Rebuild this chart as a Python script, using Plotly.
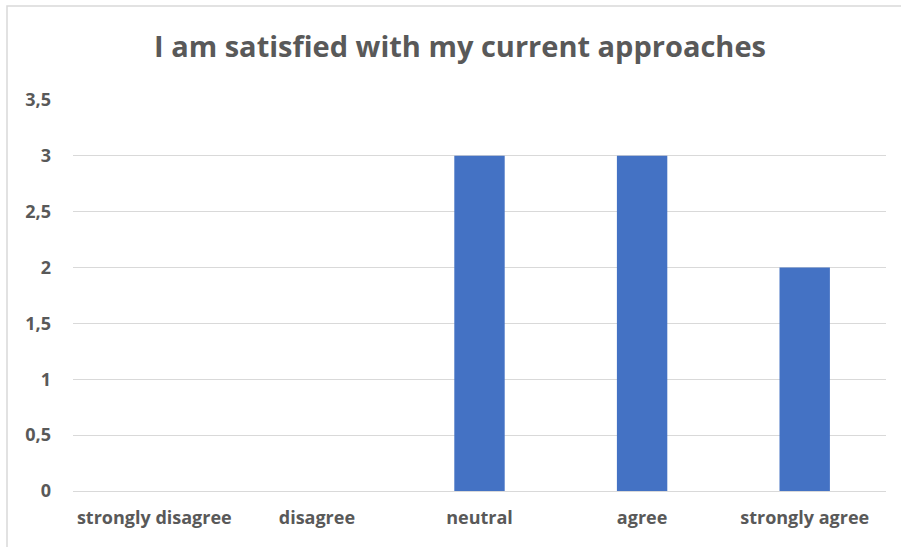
import plotly.graph_objects as go

categories = ["strongly disagree", "disagree", "neutral", "agree", "strongly agree"]
counts = [0, 0, 3, 3, 2]
y_ticks = [0, 0.5, 1, 1.5, 2, 2.5, 3, 3.5]

W, H = 901, 547
L, R, T, B = 73, 15, 100, 56
pw = W - L - R
ph = H - T - B

TEXT = "#595959"
GRID = "#D9D9D9"

fig = go.Figure(
    go.Bar(
        x=categories,
        y=counts,
        marker=dict(color="#4472C4", line=dict(width=0)),
        hoverinfo="x+y",
    )
)

fig.update_layout(
    width=W,
    height=H,
    margin=dict(l=L, r=R, t=T, b=B),
    paper_bgcolor="white",
    plot_bgcolor="white",
    separators=", ",
    bargap=0.69,
    showlegend=False,
    title=dict(
        text="<b>I am satisfied with my current approaches</b>",
        x=460 / W,
        xanchor="center",
        y=1 - 47 / H,
        yanchor="middle",
        font=dict(family="Open Sans", size=29, color=TEXT),
    ),
    font=dict(family="Open Sans", color=TEXT),
)

fig.update_xaxes(
    showgrid=False,
    showline=False,
    ticks="",
    tickfont=dict(family="Open Sans", size=18, color=TEXT, weight="bold"),
    ticklabelstandoff=14,
)

fig.update_yaxes(
    range=[0, 3.5],
    tickvals=y_ticks,
    showgrid=True,
    gridcolor=GRID,
    gridwidth=1,
    zeroline=True,
    zerolinecolor=GRID,
    zerolinewidth=1,
    showline=False,
    ticks="",
    tickfont=dict(family="Open Sans", size=18, color=TEXT, weight="bold"),
    ticklabelstandoff=21,
)

# chart-area frame (top and left edges visible; right/bottom run past the page)
fig.add_shape(
    type="rect",
    xref="paper",
    yref="paper",
    x0=(7 - L) / pw,
    x1=(W + 5 - L) / pw,
    y0=-(B + 5) / ph,
    y1=1 + (T - 6) / ph,
    line=dict(color=GRID, width=1.5),
    fillcolor="rgba(0,0,0,0)",
    layer="below",
)

fig.write_html("out.html")
